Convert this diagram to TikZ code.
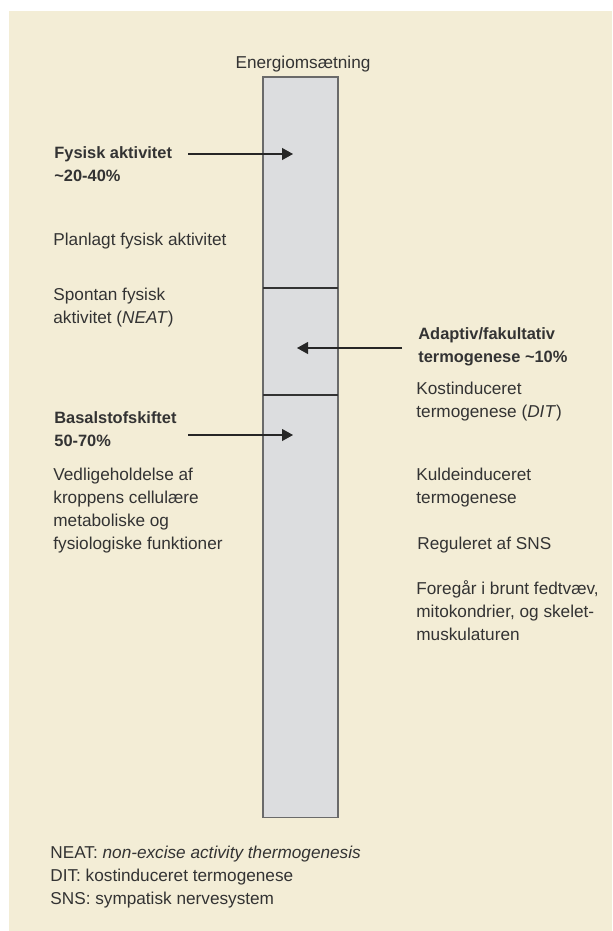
\documentclass[tikz,border=0pt]{standalone}
\usepackage{fontspec}
\setmainfont{Liberation Sans}
\usepackage{xcolor}
\usepackage{tikz}
\usetikzlibrary{arrows.meta, positioning}
\definecolor{encream}{HTML}{F3EDD6}
\definecolor{engray}{HTML}{DCDDDF}
\definecolor{enedge}{HTML}{6A6A6A}
\definecolor{entext}{HTML}{333333}

\begin{document}
\begin{tikzpicture}[
  x=0.5pt, y=-0.5pt,
  bar/.style={rectangle, draw=enedge, fill=engray, line width=0.6pt,
    minimum width=37.5pt, minimum height=370.25pt, inner sep=0pt},
  arr/.style={-{Triangle[length=5.5pt, width=6pt]}, line width=0.55pt, black!85},
  lbl/.style={font=\fontsize{8.6}{11.5}\selectfont, text=entext, align=left, inner sep=0pt, anchor=base west},
  head/.style={lbl, font=\fontsize{8.2}{11.5}\selectfont\bfseries},
  note/.style={lbl},
]
  \useasboundingbox (0,0) rectangle (612,931);
  \fill[encream] (9,11) rectangle (612,931);

  % the bar (multi-line labels below sit on the baseline of their last line)
  \node[bar, anchor=north] (bar) at (300.5,76.5) {};
  \draw[line width=0.55pt, black!80] (263,288) -- (338,288);
  \draw[line width=0.55pt, black!80] (263,395) -- (338,395);
  \node[lbl, anchor=base] (title) at (303,69) {Energioms\ae tning};

  % left side
  \node[head] (fysisk) at (54,181) {Fysisk aktivitet\\\textasciitilde 20-40\%};
  \node[lbl] (planlagt) at (53,245) {Planlagt fysisk aktivitet};
  \node[lbl] (spontan) at (53,323) {Spontan fysisk\\aktivitet (\textit{NEAT})};
  \node[head] (basal) at (54,446) {Basalstofskiftet\\50-70\%};
  \node[lbl] (vedlige) at (53,549) {Vedligeholdelse af\\kroppens cellul\ae re\\metaboliske og\\fysiologiske funktioner};

  % right side
  \node[head] (adaptiv) at (418,362) {Adaptiv/fakultativ\\termogenese \textasciitilde 10\%};
  \node[lbl] (kost) at (416,417) {Kostinduceret\\termogenese (\textit{DIT})};
  \node[lbl] (kulde) at (416,503) {Kuldeinduceret\\termogenese};
  \node[lbl] (sns) at (417,549) {Reguleret af SNS};
  \node[lbl] (foregaar) at (416,640) {Foreg\aa r i brunt fedtv\ae v,\\mitokondrier, og skelet-\\muskulaturen};

  % arrows
  \coordinate (fysA) at (188,154);
  \coordinate (fysB) at (293,154);
  \coordinate (adaA) at (402,348);
  \coordinate (adaB) at (297,348);
  \coordinate (basA) at (188,435);
  \coordinate (basB) at (293,435);
  \draw[arr] (fysA) -- (fysB);
  \draw[arr] (adaA) -- (adaB);
  \draw[arr] (basA) -- (basB);

  % footnotes
  \node[note] (noter) at (50,904) {NEAT: \textit{non-excise activity thermogenesis}\\DIT: kostinduceret termogenese\\SNS: sympatisk nervesystem};
\end{tikzpicture}
\end{document}
